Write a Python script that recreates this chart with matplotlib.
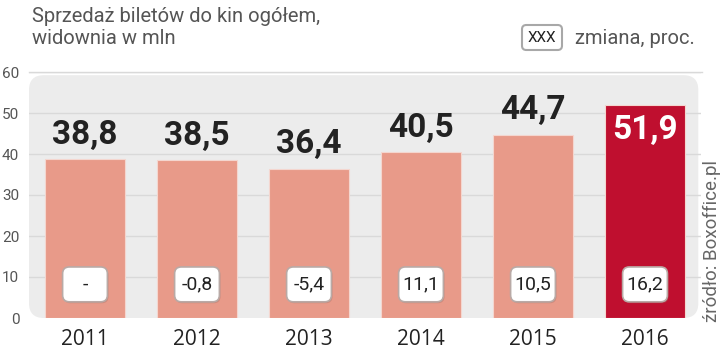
import matplotlib.pyplot as plt
from matplotlib.patches import FancyBboxPatch

years = ["2011", "2012", "2013", "2014", "2015", "2016"]
viewers = [38.8, 38.5, 36.4, 40.5, 44.7, 51.9]
change_labels = ["-", "-0,8", "-5,4", "11,1", "10,5", "16,2"]
value_labels = ["38,8", "38,5", "36,4", "40,5", "44,7", "51,9"]
yticks = [0, 10, 20, 30, 40, 50, 60]

BAR = "#e89a89"
HIGHLIGHT = "#bf0f2f"
PANEL = "#ececec"
GRID = "#d9d9d9"
TEXT = "#222222"
GRAYTEXT = "#555555"

plt.rcParams["font.family"] = ["Roboto", "DejaVu Sans"]

fig = plt.figure(figsize=(7.2, 3.5), dpi=100)
ax = fig.add_axes([29 / 720, 32 / 350, 672 / 720, 246 / 350])
ax.set_xlim(-0.5, 5.5)
ax.set_ylim(0, 60)

# rounded grey panel behind the bars
panel = FancyBboxPatch((0, 0), 0.996, 0.987, boxstyle="round,pad=0,rounding_size=0.022",
                       mutation_aspect=2.73, transform=ax.transAxes,
                       facecolor=PANEL, edgecolor="none", zorder=0)
ax.add_patch(panel)

for y in yticks[1:]:
    ax.axhline(y, color=GRID, lw=1, zorder=1)

x = list(range(len(years)))
colors = [BAR] * (len(years) - 1) + [HIGHLIGHT]
ax.bar(x, viewers, width=0.71, color=colors, edgecolor="#f4d6cf", linewidth=0.8, zorder=2)

for i, v in enumerate(viewers):
    if i == len(viewers) - 1:
        ax.annotate(value_labels[i], (i, v), xytext=(0, -6), textcoords="offset points",
                    ha="center", va="top", fontsize=24, fontweight="bold",
                    color="white", zorder=4)
    else:
        ax.annotate(value_labels[i], (i, v), xytext=(0, 6), textcoords="offset points",
                    ha="center", va="bottom", fontsize=24, fontweight="bold",
                    color=TEXT, zorder=4)

    # change box
    bw, bh, cy = 0.40, 8.5, 8.2
    shadow = FancyBboxPatch((i - bw / 2 + 0.01, cy - bh / 2 - 0.35), bw, bh,
                            boxstyle="round,pad=0,rounding_size=0.06", mutation_aspect=27.3,
                            facecolor="#9a6b63", edgecolor="none", alpha=0.35, zorder=3)
    ax.add_patch(shadow)
    box = FancyBboxPatch((i - bw / 2, cy - bh / 2), bw, bh,
                         boxstyle="round,pad=0,rounding_size=0.06", mutation_aspect=27.3,
                         facecolor="white", edgecolor="#b9aaa6", linewidth=1.2, zorder=3)
    ax.add_patch(box)
    ax.text(i, cy, change_labels[i], ha="center", va="center", fontsize=14,
            color=TEXT, zorder=4)

ax.set_xticks(x)
ax.set_xticklabels(years, fontsize=15, family="Open Sans", color=TEXT)
ax.set_yticks(yticks)
ax.set_yticklabels([str(t) for t in yticks], fontsize=11, color=GRAYTEXT)
ax.tick_params(axis="x", length=0, pad=8)
ax.tick_params(axis="y", length=0, pad=7)
for s in ax.spines.values():
    s.set_visible(False)
ax.axhline(60, color=GRID, lw=1, xmax=1.002, clip_on=False, zorder=1)

fig.text(32 / 720, 1 - 7 / 350, "Sprzedaż biletów do kin ogółem,\nwidownia w mln",
         ha="left", va="top", fontsize=14.5, color=GRAYTEXT, linespacing=1.2)

# legend
leg = FancyBboxPatch((522 / 720, 1 - 50 / 350), 40 / 720, 25 / 350,
                     boxstyle="round,pad=0,rounding_size=0.006", mutation_aspect=2.06,
                     transform=fig.transFigure, facecolor="white", edgecolor="#a8a8a8",
                     linewidth=1.5)
fig.patches.append(leg)
fig.text(542 / 720, 1 - 37.5 / 350, "XXX", ha="center", va="center", fontsize=11,
         color=TEXT)
fig.text(575 / 720, 1 - 38 / 350, "zmiana, proc.", ha="left", va="center", fontsize=14.5,
         color=GRAYTEXT)

fig.text(712 / 720, 28 / 350, "źródło: Boxoffice.pl", rotation=90, ha="center", va="bottom",
         fontsize=13.5, color="#666666")

fig.savefig("out.png", dpi=100)
